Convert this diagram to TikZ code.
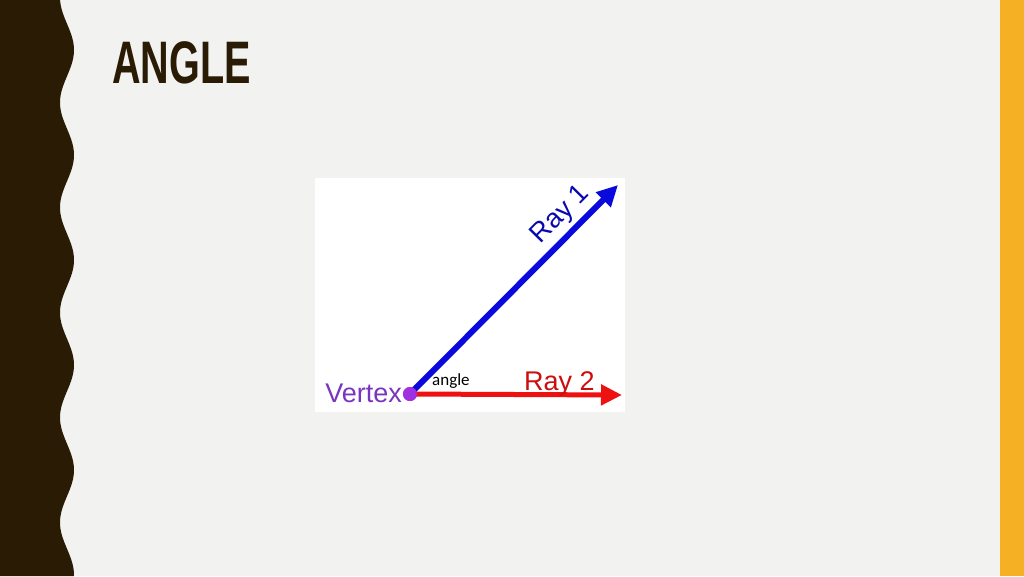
\documentclass[tikz,border=0pt]{standalone}
\usepackage{fontspec}
\setmainfont{Liberation Sans}
\newfontfamily\calfont{Carlito}
\usetikzlibrary{arrows.meta}
\definecolor{bgc}{HTML}{F2F2F0}
\definecolor{darkbrown}{HTML}{2A1B04}
\definecolor{barc}{HTML}{F6B023}
\definecolor{rayblue}{HTML}{0A0ADC}
\definecolor{rayred}{HTML}{EE1111}
\definecolor{vpurple}{HTML}{7A35C0}
\definecolor{dotpurple}{HTML}{A030E0}
\tikzset{
  raytext/.style={font=\fontsize{27}{30}\selectfont, inner sep=0pt},
  rayline/.style={line width=#1, -{Triangle[length=21pt,width=20pt]}},
}
\begin{document}
\begin{tikzpicture}[x=1pt,y=-1pt]
\useasboundingbox (0,0) rectangle (1024,576);
\fill[bgc] (0,0) rectangle (1024,576);
% wavy left band
\fill[darkbrown] (0,0) -- plot[domain=0:576, samples=220, smooth] ({67+7*cos(3.428571*(\x-50))}, \x) -- (0,576) -- cycle;
% right bar
\fill[barc] (1000,0) rectangle (1024,576);
% title
\node[anchor=base west, inner sep=0pt, text=darkbrown] (title) at (112,83)
  {\scalebox{0.66}[1]{\fontsize{60}{64}\selectfont\bfseries ANGLE}};
% image panel
\fill[white] (315,178) rectangle (625,412);
% vertex
\node[circle, fill=dotpurple, minimum size=14pt, inner sep=0pt] (v) at (410,394) {};
\coordinate (t1) at (618,185);
\coordinate (t2) at (622,395);
\draw[rayblue, rayline=6pt] (v.center) -- (t1);
\draw[rayred, rayline=5pt] (v.center) -- (t2);
\node[circle, fill=dotpurple, minimum size=14pt, inner sep=0pt] at (v) {};
\node[raytext, text=vpurple, anchor=base east] (vt) at (402,402) {Vertex};
\node[raytext, text=rayred!85!black, anchor=base west] (r2) at (524,390) {Ray 2};
\node[raytext, text=rayblue!80!black, rotate=45.5] (r1) at (561,215) {Ray 1};
\node[anchor=base west, inner sep=0pt, font=\calfont\fontsize{17}{20}\selectfont] (ang) at (432,385) {angle};
\end{tikzpicture}
\end{document}
